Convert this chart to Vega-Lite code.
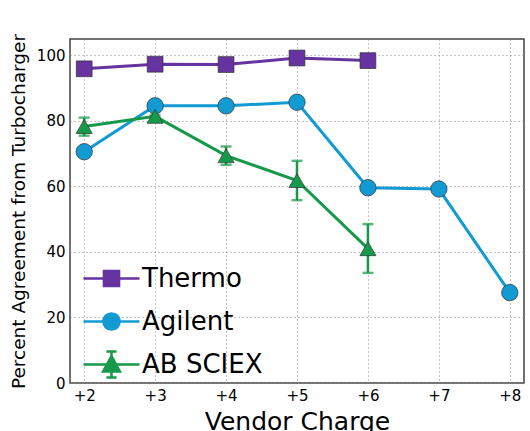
{
  "$schema": "https://vega.github.io/schema/vega-lite/v6.json",
  "autosize": "none",
  "width": 454,
  "height": 344,
  "padding": {"left": 70, "top": 39, "right": 6, "bottom": 48},
  "config": {
    "font": "DejaVu Sans",
    "view": {"stroke": "#444", "strokeWidth": 1.5},
    "axis": {
      "grid": true,
      "gridColor": "#888",
      "gridDash": [1, 3],
      "gridWidth": 1,
      "domain": false,
      "ticks": false,
      "zindex": 1,
      "labelFont": "DejaVu Sans",
      "labelFontSize": 15,
      "labelColor": "#000",
      "titleFont": "DejaVu Sans",
      "titleFontWeight": "normal",
      "titleColor": "#000"
    },
    "legend": {
      "orient": "none",
      "legendX": 12,
      "legendY": 210,
      "labelFontSize": 26,
      "labelFont": "DejaVu Sans",
      "labelColor": "#000",
      "rowPadding": -9,
      "symbolSize": 3136,
      "symbolOpacity": 1,
      "symbolStrokeWidth": 2.5,
      "labelOffset": 1,
      "padding": 0
    }
  },
  "data": {
    "values": [
      {"vendor": "Thermo", "charge": 2, "pct": 95.9},
      {"vendor": "Thermo", "charge": 3, "pct": 97.3},
      {"vendor": "Thermo", "charge": 4, "pct": 97.2},
      {"vendor": "Thermo", "charge": 5, "pct": 99.2},
      {"vendor": "Thermo", "charge": 6, "pct": 98.4},
      {"vendor": "Agilent", "charge": 2, "pct": 70.6},
      {"vendor": "Agilent", "charge": 3, "pct": 84.6},
      {"vendor": "Agilent", "charge": 4, "pct": 84.6},
      {"vendor": "Agilent", "charge": 5, "pct": 85.7},
      {"vendor": "Agilent", "charge": 6, "pct": 59.6},
      {"vendor": "Agilent", "charge": 7, "pct": 59.2},
      {"vendor": "Agilent", "charge": 8, "pct": 27.6},
      {"vendor": "AB SCIEX", "charge": 2, "pct": 78.3, "lo": 75.5, "hi": 81.0},
      {"vendor": "AB SCIEX", "charge": 3, "pct": 81.4, "lo": 81.0, "hi": 81.8},
      {"vendor": "AB SCIEX", "charge": 4, "pct": 69.4, "lo": 66.6, "hi": 72.2},
      {"vendor": "AB SCIEX", "charge": 5, "pct": 61.8, "lo": 55.8, "hi": 67.8},
      {"vendor": "AB SCIEX", "charge": 6, "pct": 41.0, "lo": 33.6, "hi": 48.5}
    ]
  },
  "encoding": {
    "x": {
      "field": "charge",
      "type": "quantitative",
      "scale": {"domain": [1.8, 8.2], "nice": false, "zero": false},
      "axis": {
        "values": [2, 3, 4, 5, 6, 7, 8],
        "labelExpr": "'+' + datum.value",
        "title": "Vendor Charge",
        "titleFontSize": 25,
        "titlePadding": 6,
        "labelPadding": 5
      }
    },
    "y": {
      "field": "pct",
      "type": "quantitative",
      "scale": {"domain": [0, 105], "nice": false},
      "axis": {
        "values": [0, 20, 40, 60, 80, 100],
        "title": "Percent Agreement from Turbocharger",
        "titleFontSize": 18.5,
        "titlePadding": 8,
        "labelPadding": 5
      }
    },
    "color": {
      "field": "vendor",
      "type": "nominal",
      "title": null,
      "scale": {
        "domain": ["Thermo", "Agilent", "AB SCIEX"],
        "range": ["#6633a0", "#129ad3", "#15994a"]
      },
      "legend": {
        "encode": {
          "symbols": {
            "update": {
              "shape": {"signal": "datum.value === 'Thermo' ? 'M -1 0 L 1 0 M -0.27 -0.27 L 0.27 -0.27 L 0.27 0.27 L -0.27 0.27 Z' : datum.value === 'Agilent' ? 'M -1 0 L 1 0 M -0.29 0 A 0.29 0.29 0 1 0 0.29 0 A 0.29 0.29 0 1 0 -0.29 0 Z' : 'M -1 0 L 1 0 M 0 -0.46 L 0 0.46 M -0.18 -0.46 L 0.18 -0.46 M -0.18 0.46 L 0.18 0.46 M 0 -0.3 L 0.3 0.25 L -0.3 0.25 Z'"},
              "stroke": {"scale": "color", "field": "value"},
              "fill": {"scale": "color", "field": "value"},
              "strokeWidth": {"value": 2.5},
              "size": {"value": 3136}
            }
          }
        }
      }
    }
  },
  "layer": [
    {
      "mark": {"type": "line", "strokeWidth": 3},
      "encoding": {"detail": {"field": "vendor"}}
    },
    {
      "transform": [{"filter": "datum.vendor === 'AB SCIEX'"}],
      "mark": {"type": "errorbar", "ticks": {"size": 11}, "thickness": 2.5},
      "encoding": {
        "y": {"field": "lo", "type": "quantitative"},
        "y2": {"field": "hi"}
      }
    },
    {
      "transform": [{"filter": "datum.vendor === 'Thermo'"}],
      "mark": {"type": "point", "shape": "square", "filled": true, "opacity": 1, "size": 250, "stroke": "#333", "strokeWidth": 0.7}
    },
    {
      "transform": [{"filter": "datum.vendor === 'Agilent'"}],
      "mark": {"type": "point", "shape": "circle", "filled": true, "opacity": 1, "size": 270, "stroke": "#333", "strokeWidth": 0.7}
    },
    {
      "transform": [{"filter": "datum.vendor === 'AB SCIEX'"}],
      "mark": {"type": "point", "shape": "triangle-up", "filled": true, "opacity": 1, "size": 260, "stroke": "#333", "strokeWidth": 0.7}
    }
  ]
}
